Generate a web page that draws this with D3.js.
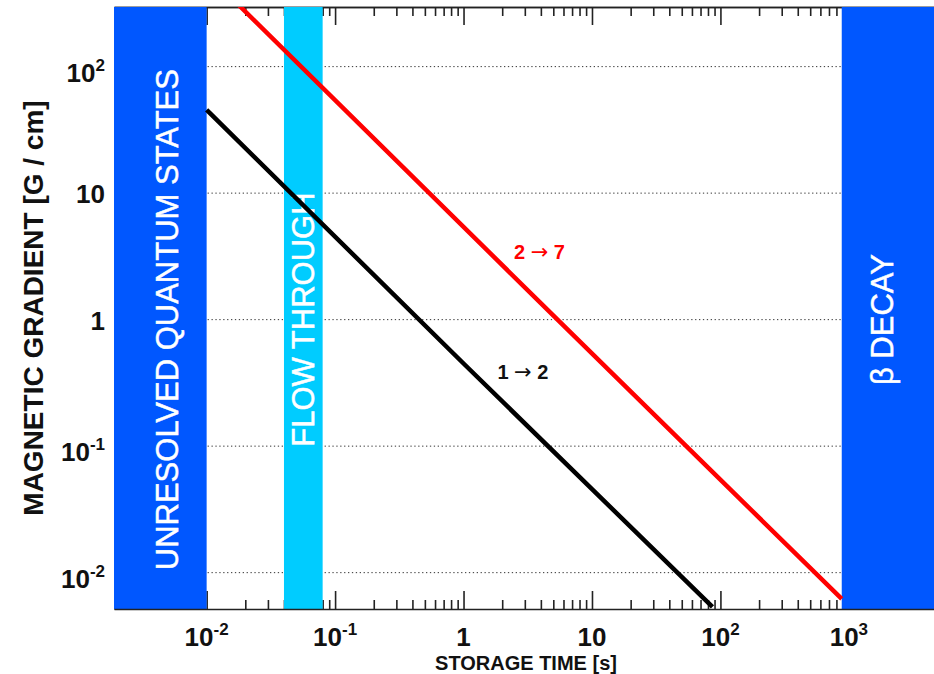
<!DOCTYPE html>
<html>
<head>
<meta charset="utf-8">
<script src="https://cdn.jsdelivr.net/npm/d3@7"></script>
<style>
  body { margin: 0; background: #fff; }
  svg { display: block; }
  text { font-family: 'Liberation Sans', Arial, Helvetica, sans-serif; }
</style>
</head>
<body>
<div id="chart"></div>
<script>
// axis extents (storage time in s, gradient in G/cm)
const timeRange = [0.0019, 4600];
const gradRange = [0.00516, 296];

// tick labels
const xMajor = [0.01, 0.1, 1, 10, 100, 1000];
const xTickBase = ['10', '10', '1', '10', '10', '10'];
const xTickExp = ['-2', '-1', '', '', '2', '3'];
const yMajor = [0.01, 0.1, 1, 10, 100];
const yTickBase = ['10', '10', '1', '10', '10'];
const yTickExp = ['-2', '-1', '', '', '2'];

// shaded regions
const bandNames = ['UNRESOLVED QUANTUM STATES', 'FLOW THROUGH', 'β DECAY'];
const bandStart = [0.0019, 0.04, 880];
const bandEnd = [0.01, 0.08, 4600];
const bandLabelT = [0.00596, 0.0682, 2200];

// transitions [time, gradient]
const series12 = [[0.01, 45.5], [1, 0.45], [86.7, 0.00536]];
const series27 = [[0.01, 546], [4.9, 1.1], [880, 0.0062]];
const lineFrom = ['1', '2'];
const lineTo = ['2', '7'];
const lineLabelT = [2.9, 3.9];
const lineLabelG = [0.34, 3.0];

const W = 934;
const H = 674;
const margin = { top: 7, right: 0, bottom: 65, left: 114 };
const pLeft = margin.left;
const pRight = W - margin.right;
const pTop = margin.top;
const pBottom = H - margin.bottom;

const svg = d3.select('#chart').append('svg').attr('width', W).attr('height', H);

const x = d3.scaleLog().domain(timeRange).range([pLeft, pRight]);
const y = d3.scaleLog().domain(gradRange).range([pBottom, pTop]);

const minor = [];
for (let e = -3; e <= 3; e += 1) {
  for (let m = 2; m <= 9; m += 1) {
    const v = m * Math.pow(10, e);
    if (v > timeRange[0] && v < timeRange[1]) minor.push(v);
  }
}

// dotted horizontal grid
svg.append('g')
  .selectAll('line')
  .data(yMajor)
  .enter()
  .append('line')
  .attr('x1', pLeft)
  .attr('x2', pRight)
  .attr('y1', d => y(d))
  .attr('y2', d => y(d))
  .style('stroke', '#333')
  .style('stroke-width', 1)
  .style('stroke-dasharray', '1.3,2.6');

// top and bottom ticks (pointing inward), drawn under the bands
const topAxis = svg.append('g').attr('transform', `translate(0,${pTop})`).attr('color', '#222');
topAxis.append('g').call(d3.axisBottom(x).tickValues(minor).tickSize(9).tickSizeOuter(0).tickFormat(''));
topAxis.append('g').call(d3.axisBottom(x).tickValues(xMajor).tickSize(18).tickSizeOuter(0).tickFormat(''));
topAxis.selectAll('path, line').style('stroke-width', 1.6);

const botAxis = svg.append('g').attr('transform', `translate(0,${pBottom})`).attr('color', '#222');
botAxis.append('g').call(d3.axisTop(x).tickValues(minor).tickSize(9).tickSizeOuter(0).tickFormat(''));
botAxis.append('g').call(d3.axisTop(x).tickValues(xMajor).tickSize(18).tickSizeOuter(0).tickFormat(''));
botAxis.selectAll('line').style('stroke-width', 1.6);
botAxis.selectAll('path').remove();

// y axes (sit under the bands)
svg.append('g').attr('transform', `translate(${pLeft},0)`).attr('color', '#222')
  .call(d3.axisRight(y).tickValues(yMajor).tickSize(18).tickSizeOuter(0).tickFormat(''));
svg.append('g').attr('transform', `translate(${pRight},0)`).attr('color', '#222')
  .call(d3.axisLeft(y).tickValues(yMajor).tickSize(18).tickSizeOuter(0).tickFormat(''));

// bands
const bandColor = ['#0057ff', '#00ccff', '#0057ff'];
svg.append('g')
  .selectAll('rect')
  .data(bandNames)
  .enter()
  .append('rect')
  .attr('x', (d, i) => x(bandStart[i]))
  .attr('width', (d, i) => x(bandEnd[i]) - x(bandStart[i]))
  .attr('y', pTop)
  .attr('height', pBottom - pTop)
  .style('fill', (d, i) => bandColor[i]);

svg.append('g')
  .selectAll('text')
  .data(bandNames)
  .enter()
  .append('text')
  .attr('transform', (d, i) => `translate(${x(bandLabelT[i])},${y(1)}) rotate(-90)`)
  .attr('text-anchor', 'middle')
  .style('fill', '#fff')
  .style('stroke', '#fff')
  .style('stroke-width', 0.5)
  .style('font-size', '31px')
  .text(d => d);

// bottom axis line over the bands
svg.append('g').attr('transform', `translate(0,${pBottom})`).attr('color', '#222')
  .call(d3.axisBottom(x).tickValues([]).tickSizeOuter(0))
  .select('path')
  .style('stroke-width', 1.6);

// data lines
svg.append('clipPath').attr('id', 'plot-clip')
  .append('rect')
  .attr('x', pLeft)
  .attr('y', pTop)
  .attr('width', pRight - pLeft)
  .attr('height', pBottom - pTop);

const line = d3.line().x(d => x(d[0])).y(d => y(d[1]));
const lines = svg.append('g').attr('clip-path', 'url(#plot-clip)');
lines.append('path').datum(series27).attr('d', line)
  .style('fill', 'none').style('stroke', '#ff0000').style('stroke-width', 4.5);
lines.append('path').datum(series12).attr('d', line)
  .style('fill', 'none').style('stroke', '#000').style('stroke-width', 4.5);

const labelColor = ['#111', '#ff0000'];
const lineLab = svg.append('g')
  .selectAll('text')
  .data(lineFrom)
  .enter()
  .append('text')
  .attr('x', (d, i) => x(lineLabelT[i]))
  .attr('y', (d, i) => y(lineLabelG[i]))
  .attr('text-anchor', 'middle')
  .style('fill', (d, i) => labelColor[i])
  .style('font-size', '20px')
  .style('font-weight', 'bold');
lineLab.append('tspan').text(d => `${d} `);
lineLab.append('tspan')
  .style('font-family', "'DejaVu Sans', sans-serif")
  .style('font-weight', 'normal')
  .style('font-size', '21px')
  .text('→');
lineLab.append('tspan').text((d, i) => ` ${lineTo[i]}`);

// tick labels
const xLab = svg.append('g')
  .selectAll('text')
  .data(xMajor)
  .enter()
  .append('text')
  .attr('x', d => x(d))
  .attr('y', pBottom + 37)
  .attr('text-anchor', 'middle')
  .style('font-size', '26px')
  .style('font-weight', 'bold')
  .style('fill', '#111');
xLab.append('tspan').text((d, i) => xTickBase[i]);
xLab.append('tspan').attr('dy', -11).style('font-size', '17px').text((d, i) => xTickExp[i]);

const yLab = svg.append('g')
  .selectAll('text')
  .data(yMajor)
  .enter()
  .append('text')
  .attr('x', pLeft - 9)
  .attr('y', (d, i) => y(d) + (yTickExp[i] ? 15 : 10))
  .attr('text-anchor', 'end')
  .style('font-size', '26px')
  .style('font-weight', 'bold')
  .style('fill', '#111');
yLab.append('tspan').text((d, i) => yTickBase[i]);
yLab.append('tspan').attr('dy', -11).style('font-size', '17px').text((d, i) => yTickExp[i]);

// axis titles
svg.append('text')
  .attr('x', 526)
  .attr('y', H - 4)
  .attr('text-anchor', 'middle')
  .style('font-size', '20px')
  .style('font-weight', 'bold')
  .style('fill', '#111')
  .text('STORAGE TIME [s]');

svg.append('text')
  .attr('transform', `translate(43,${(pTop + pBottom) / 2}) rotate(-90)`)
  .attr('text-anchor', 'middle')
  .style('font-size', '28px')
  .style('font-weight', 'bold')
  .style('fill', '#111')
  .text('MAGNETIC GRADIENT [G / cm]');
</script>
</body>
</html>
